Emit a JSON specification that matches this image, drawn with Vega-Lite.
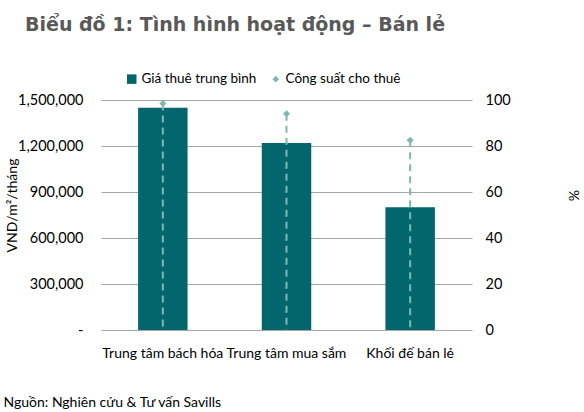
{
  "$schema": "https://vega.github.io/schema/vega-lite/v6.json",
  "autosize": "none",
  "width": 371,
  "height": 230,
  "padding": {"left": 101, "top": 100, "right": 112, "bottom": 82},
  "background": "white",
  "title": {
    "text": "Biểu đồ 1: Tình hình hoạt động – Bán lẻ",
    "anchor": "start",
    "frame": "group",
    "font": "DejaVu Sans",
    "fontSize": 19,
    "fontWeight": "bold",
    "color": "#595959",
    "dx": -76,
    "offset": 37
  },
  "data": {
    "values": [
      {"loai": "Trung tâm bách hóa", "gia": 1450000, "cs": 98.5},
      {"loai": "Trung tâm mua sắm", "gia": 1220000, "cs": 94},
      {"loai": "Khối đế bán lẻ", "gia": 800000, "cs": 82.5}
    ]
  },
  "encoding": {
    "x": {
      "field": "loai",
      "type": "nominal",
      "sort": null,
      "scale": {"paddingInner": 0.6, "paddingOuter": 0.3},
      "axis": {
        "title": "Nguồn: Nghiên cứu & Tư vấn Savills",
        "titleFont": "Lato",
        "titleFontSize": 14,
        "titleFontWeight": "normal",
        "titleColor": "#000000",
        "titleX": -98,
        "titleY": 76,
        "titleAlign": "left",
        "titleBaseline": "alphabetic",
        "labelAngle": 0,
        "labelFont": "Lato",
        "labelFontSize": 14,
        "labelColor": "#000000",
        "labelPadding": 16,
        "ticks": false,
        "domain": false
      }
    }
  },
  "layer": [
    {
      "mark": {"type": "bar", "color": "#02666C"},
      "encoding": {
        "y": {
          "field": "gia",
          "type": "quantitative",
          "scale": {"domain": [0, 1500000]},
          "axis": {
            "title": "VND/m²/tháng",
            "titleFont": "Lato",
            "titleFontSize": 14,
            "titleFontWeight": "normal",
            "titleColor": "#000000",
            "titleAngle": -90,
            "titleAlign": "center",
            "titleBaseline": "middle",
            "titleX": -89,
            "titleY": 105,
            "values": [0, 300000, 600000, 900000, 1200000, 1500000],
            "labelExpr": "datum.value === 0 ? '-\u00a0\u00a0\u00a0' : format(datum.value, ',')",
            "labelFont": "Lato",
            "labelFontSize": 14.5,
            "labelColor": "#000000",
            "labelPadding": 18,
            "ticks": false,
            "domain": false,
            "grid": true,
            "gridColor": "#A6A6A6",
            "gridWidth": 1
          }
        },
        "color": {
          "datum": "Giá thuê trung bình",
          "scale": {
            "domain": ["Giá thuê trung bình", "Công suất cho thuê"],
            "range": ["#02666C", "#7DB9B0"]
          },
          "legend": {
            "title": null,
            "orient": "none",
            "direction": "horizontal",
            "legendX": 24,
            "legendY": -28,
            "padding": 0,
            "columnPadding": 12,
            "labelFont": "Lato",
            "labelFontSize": 13.5,
            "labelColor": "#000000",
            "labelOffset": 3,
            "symbolSize": 90,
            "symbolStrokeWidth": 0,
            "encode": {
              "symbols": {
                "update": {
                  "shape": {"signal": "datum.value === 'Giá thuê trung bình' ? 'square' : 'diamond'"},
                  "size": {"signal": "datum.value === 'Giá thuê trung bình' ? 90 : 45"},
                  "fill": {"signal": "datum.value === 'Giá thuê trung bình' ? '#02666C' : '#7DB9B0'"},
                  "opacity": {"value": 1}
                }
              }
            }
          }
        }
      }
    },
    {
      "encoding": {
        "y": {
          "field": "cs",
          "type": "quantitative",
          "scale": {"domain": [0, 100]},
          "axis": {
            "orient": "right",
            "title": "%",
            "titleFont": "Lato",
            "titleFontSize": 14,
            "titleFontWeight": "normal",
            "titleColor": "#000000",
            "titleAngle": 90,
            "titleAlign": "center",
            "titleBaseline": "middle",
            "titleX": 100,
            "titleY": 95,
            "values": [0, 20, 40, 60, 80, 100],
            "labelFont": "Lato",
            "labelFontSize": 14.5,
            "labelColor": "#000000",
            "labelPadding": 13,
            "ticks": false,
            "domain": false,
            "grid": false
          }
        }
      },
      "layer": [
        {
          "mark": {"type": "rule", "color": "#7DB9B0", "strokeWidth": 2, "strokeDash": [7, 5]},
          "encoding": {
            "y2": {"datum": 0}
          }
        },
        {
          "mark": {"type": "point", "shape": "diamond", "filled": true, "size": 50, "opacity": 1},
          "encoding": {
            "color": {"datum": "Công suất cho thuê"}
          }
        }
      ]
    }
  ],
  "resolve": {"scale": {"y": "independent"}},
  "config": {
    "view": {"stroke": null},
    "font": "Lato"
  }
}
